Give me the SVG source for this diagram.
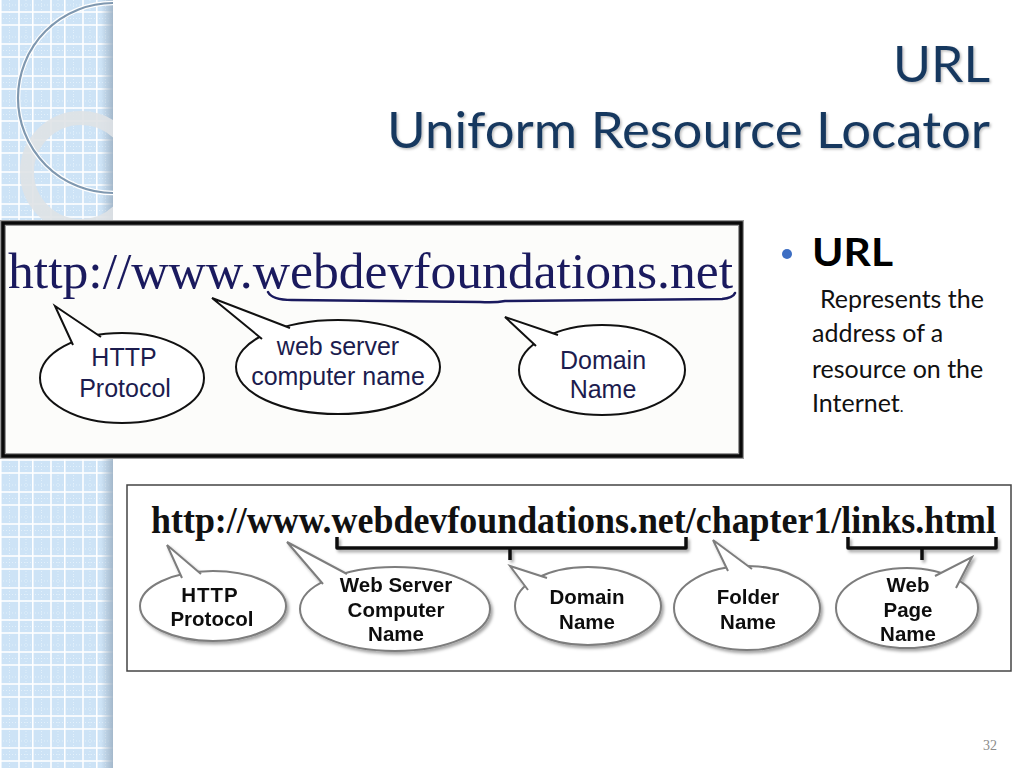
<svg xmlns="http://www.w3.org/2000/svg" width="1024" height="768" viewBox="0 0 1024 768">
<defs>
<style>
.title{font-family:Lato,"Open Sans","Noto Sans",sans-serif;font-size:50px;fill:#17375e;text-anchor:end}
.body{font-family:Lato,"Open Sans","Noto Sans",sans-serif;font-size:25px;fill:#111}
.tb{font-family:"Liberation Sans",Arial,sans-serif;font-size:25px;fill:#1c1c4e;text-anchor:middle}
.bb{font-family:"Liberation Sans",Arial,sans-serif;font-size:20.5px;font-weight:bold;fill:#111;text-anchor:middle}
.tbub{fill:#fff;stroke:#111;stroke-width:2}
.bbub{fill:#fff;stroke:#7d7d7d;stroke-width:2}
.brace{fill:none;stroke:#111;stroke-width:3.5;stroke-linejoin:round}
</style>
<pattern id="grid" patternUnits="userSpaceOnUse" x="0" y="0" width="32" height="32">
<rect width="32" height="32" fill="#cde3f6"/>
<g stroke="#eef6fd" stroke-width="0.8" stroke-dasharray="1 2" opacity="0.8">
<line x1="9.5" y1="0" x2="9.5" y2="32"/><line x1="26" y1="0" x2="26" y2="32"/>
<line x1="0" y1="5" x2="32" y2="5"/><line x1="0" y1="18.5" x2="32" y2="18.5"/>
</g>
<g stroke="#ffffff" stroke-width="1.6">
<line x1="0.8" y1="0" x2="0.8" y2="32"/><line x1="19" y1="0" x2="19" y2="32"/>
<line x1="0" y1="12" x2="32" y2="12"/><line x1="0" y1="25" x2="32" y2="25"/>
</g>
</pattern>
<linearGradient id="edge" x1="0" y1="0" x2="1" y2="0">
<stop offset="0" stop-color="#9fb3c6" stop-opacity="0"/>
<stop offset="1" stop-color="#9fb3c6" stop-opacity="0.9"/>
</linearGradient>
<clipPath id="strip"><rect x="0" y="0" width="113" height="768"/></clipPath>
<filter id="sh" x="-20%" y="-20%" width="140%" height="140%">
<feDropShadow dx="2" dy="2.5" stdDeviation="1.8" flood-color="#000" flood-opacity="0.35"/>
</filter>
<filter id="tsh" x="-5%" y="-20%" width="110%" height="140%">
<feDropShadow dx="1.5" dy="1.5" stdDeviation="1" flood-color="#000" flood-opacity="0.25"/>
</filter>
</defs>

<rect width="1024" height="768" fill="#ffffff"/>

<!-- left decorative strip -->
<g id="strip-deco">
<rect x="0" y="0" width="113" height="768" fill="url(#grid)"/>
<rect x="101" y="0" width="12" height="768" fill="url(#edge)"/>
<g clip-path="url(#strip)">
<circle cx="81" cy="172" r="54" fill="none" stroke="#dfe2e6" stroke-width="14" opacity="0.9"/>
<circle cx="113" cy="98" r="95" fill="none" stroke="#ffffff" stroke-width="4.5"/>
<circle cx="113" cy="98" r="95" fill="none" stroke="#7f98b0" stroke-width="2.2"/>
</g>
</g>

<!-- title -->
<g id="title" filter="url(#tsh)">
<text class="title" x="990" y="82" textLength="97" lengthAdjust="spacingAndGlyphs">URL</text>
<text class="title" x="990" y="148" textLength="603" lengthAdjust="spacingAndGlyphs">Uniform Resource Locator</text>
</g>

<!-- right bullet text -->
<g id="bullet">
<circle cx="787" cy="254" r="5" fill="#3d6ec3"/>
<text x="812" y="266" font-family="Lato,'Open Sans','Noto Sans',sans-serif" font-size="38" font-weight="bold" fill="#000" textLength="81" lengthAdjust="spacingAndGlyphs">URL</text>
<text class="body" x="820" y="308">Represents the</text>
<text class="body" x="812" y="342">address of a</text>
<text class="body" x="812" y="378">resource on the</text>
<text class="body" x="812" y="412">Internet<tspan font-size="16">.</tspan></text>
</g>

<!-- top image -->
<g id="top-image">
<rect x="3" y="223" width="738" height="233" fill="#fcfcfa" stroke="#9a9a9a" stroke-width="6"/>
<rect x="3" y="223" width="738" height="233" fill="none" stroke="#0a0a0a" stroke-width="3.5"/>
<text x="8" y="288" font-family="'Liberation Serif','Times New Roman',serif" font-size="51" fill="#1a1a5e" textLength="725" lengthAdjust="spacingAndGlyphs">http://www.webdevfoundations.net</text>
</g>

<!-- bottom image -->
<g id="bottom-image">
<rect x="127" y="485" width="884" height="186" fill="#ffffff" stroke="#444" stroke-width="1.5"/>
<text x="151" y="533" font-family="'Liberation Serif','Times New Roman',serif" font-size="37" font-weight="bold" fill="#111" textLength="845" lengthAdjust="spacingAndGlyphs">http://www.webdevfoundations.net/chapter1/links.html</text>
</g>

<g id="connectors">
<path d="M268,292 Q272,300 292,300 L480,302 Q495,303 505,301 L722,299 Q733,298 735,293" fill="none" stroke="#1a1a5e" stroke-width="2.5" stroke-linecap="round"/>
<g filter="url(#sh)">
<path class="brace" d="M337,537 L337,548 L686,548 L686,537 M510,548 L510,560"/>
<path class="brace" d="M848,537 L848,548 L996,548 L996,537 M922,548 L922,560"/>
</g>
</g>

<g id="t-http">
<ellipse class="tbub" cx="122" cy="378" rx="82" ry="45"/>
<path class="tbub" d="M73,345 L55,306 L101,337"/>
<text class="tb" x="124" y="366">HTTP</text>
<text class="tb" x="125" y="397">Protocol</text>
</g>
<g id="t-webserver">
<ellipse class="tbub" cx="338" cy="367" rx="102" ry="47"/>
<path class="tbub" d="M262,339 L212,298 L290,328"/>
<text class="tb" x="338" y="355">web server</text>
<text class="tb" x="338" y="385">computer name</text>
</g>
<g id="t-domain">
<ellipse class="tbub" cx="602" cy="370" rx="83" ry="45"/>
<path class="tbub" d="M536,346 L505,317 L558,335"/>
<text class="tb" x="603" y="369">Domain</text>
<text class="tb" x="603" y="398">Name</text>
</g>

<g id="b-http" filter="url(#sh)">
<ellipse class="bbub" cx="213" cy="606" rx="73" ry="35"/>
<path class="bbub" d="M182,578 L167,545 L201,574"/>
<text class="bb" x="210" y="602" letter-spacing="1">HTTP</text>
<text class="bb" x="212" y="626">Protocol</text>
</g>
<g id="b-webserver" filter="url(#sh)">
<ellipse class="bbub" cx="395" cy="609" rx="95" ry="42"/>
<path class="bbub" d="M323,584 L287,542 L347,574"/>
<text class="bb" x="396" y="592">Web Server</text>
<text class="bb" x="396" y="617">Computer</text>
<text class="bb" x="396" y="641">Name</text>
</g>
<g id="b-domain" filter="url(#sh)">
<ellipse class="bbub" cx="588" cy="606" rx="73" ry="39"/>
<path class="bbub" d="M528,590 L510,566 L547,578"/>
<text class="bb" x="587" y="604">Domain</text>
<text class="bb" x="587" y="629">Name</text>
</g>
<g id="b-folder" filter="url(#sh)">
<ellipse class="bbub" cx="747" cy="608" rx="73" ry="42"/>
<path class="bbub" d="M728,571 L713,540 L752,569"/>
<text class="bb" x="748" y="604">Folder</text>
<text class="bb" x="748" y="629">Name</text>
</g>
<g id="b-webpage" filter="url(#sh)">
<ellipse class="bbub" cx="907" cy="608" rx="71" ry="40"/>
<path class="bbub" d="M935,576 L972,557 L956,588"/>
<text class="bb" x="908" y="592">Web</text>
<text class="bb" x="908" y="617">Page</text>
<text class="bb" x="908" y="641">Name</text>
</g>

<text id="page" x="990" y="750" font-family="'Liberation Serif','Times New Roman',serif" font-size="14" fill="#8c8c8c" text-anchor="middle">32</text>
</svg>
